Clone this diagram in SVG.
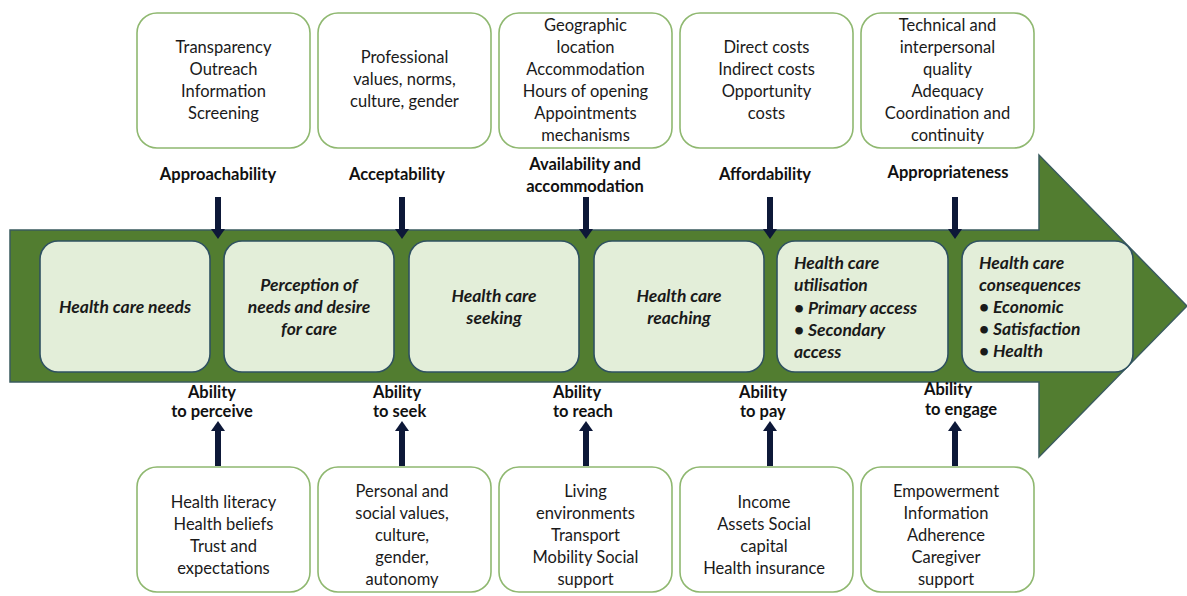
<svg xmlns="http://www.w3.org/2000/svg" width="1187" height="596" viewBox="0 0 1187 596">
<defs>
<style>
.ob{fill:#ffffff;stroke:#8fb870;stroke-width:1.6}
.ib{fill:#e3eed9;stroke:#2f5160;stroke-width:1.6}
.t{font-family:Lato,"Liberation Sans",sans-serif;font-size:16.5px;fill:#1a1a1a;text-anchor:middle}
.lb{font-family:Lato,"Liberation Sans",sans-serif;font-size:16.5px;font-weight:bold;fill:#111;text-anchor:middle}
.la{font-family:Lato,"Liberation Sans",sans-serif;font-size:16.5px;font-weight:bold;fill:#111;text-anchor:start}
.it{font-family:Lato,"Liberation Sans",sans-serif;font-size:17.5px;font-weight:bold;font-style:italic;fill:#1a1a1a;text-anchor:middle}
.il{font-family:Lato,"Liberation Sans",sans-serif;font-size:17.5px;font-weight:bold;font-style:italic;fill:#1a1a1a;text-anchor:start}
.ar{stroke:#0d1838;stroke-width:6;fill:none}
</style>
<marker id="ah" markerUnits="userSpaceOnUse" markerWidth="12" markerHeight="14" refX="0" refY="7" orient="auto">
<path d="M0,0 L10,7 L0,14 Z" fill="#0d1838"/>
</marker>
</defs>
<rect width="1187" height="596" fill="#ffffff"/>

<g id="band">
<polygon points="10,230 1039,230 1039,155 1187,306 1039,457 1039,382 10,382" fill="#527d30" stroke="#3a5b5e" stroke-width="1.5"/>
</g>

<g id="top-boxes">
<g id="top1"><rect class="ob" x="137" y="13" width="173" height="135" rx="20"/>
<text class="t"><tspan x="223.5" y="53">Transparency</tspan><tspan x="223.5" y="75">Outreach</tspan><tspan x="223.5" y="97">Information</tspan><tspan x="223.5" y="119">Screening</tspan></text></g>
<g id="top2"><rect class="ob" x="318" y="13" width="173" height="135" rx="20"/>
<text class="t"><tspan x="404.5" y="63">Professional</tspan><tspan x="404.5" y="85">values, norms,</tspan><tspan x="404.5" y="107">culture, gender</tspan></text></g>
<g id="top3"><rect class="ob" x="499" y="13" width="173" height="135" rx="20"/>
<text class="t"><tspan x="585.5" y="31">Geographic</tspan><tspan x="585.5" y="53">location</tspan><tspan x="585.5" y="75">Accommodation</tspan><tspan x="585.5" y="97">Hours of opening</tspan><tspan x="585.5" y="119">Appointments</tspan><tspan x="585.5" y="141">mechanisms</tspan></text></g>
<g id="top4"><rect class="ob" x="680" y="13" width="173" height="135" rx="20"/>
<text class="t"><tspan x="766.5" y="53">Direct costs</tspan><tspan x="766.5" y="75">Indirect costs</tspan><tspan x="766.5" y="97">Opportunity</tspan><tspan x="766.5" y="119">costs</tspan></text></g>
<g id="top5"><rect class="ob" x="861" y="13" width="173" height="135" rx="20"/>
<text class="t"><tspan x="947.5" y="31">Technical and</tspan><tspan x="947.5" y="53">interpersonal</tspan><tspan x="947.5" y="75">quality</tspan><tspan x="947.5" y="97">Adequacy</tspan><tspan x="947.5" y="119">Coordination and</tspan><tspan x="947.5" y="141">continuity</tspan></text></g>
</g>

<g id="top-labels">
<text class="lb" x="218" y="180">Approachability</text>
<text class="lb" x="397" y="180">Acceptability</text>
<text class="lb"><tspan x="585" y="170">Availability and</tspan><tspan x="585" y="192">accommodation</tspan></text>
<text class="lb" x="765" y="180">Affordability</text>
<text class="lb" x="948" y="178">Appropriateness</text>
</g>

<g id="connectors">
<line class="ar" x1="218" y1="197" x2="218" y2="229" marker-end="url(#ah)"/>
<line class="ar" x1="402" y1="197" x2="402" y2="229" marker-end="url(#ah)"/>
<line class="ar" x1="586" y1="197" x2="586" y2="229" marker-end="url(#ah)"/>
<line class="ar" x1="770" y1="197" x2="770" y2="229" marker-end="url(#ah)"/>
<line class="ar" x1="955" y1="197" x2="955" y2="229" marker-end="url(#ah)"/>
<line class="ar" x1="218" y1="466" x2="218" y2="431" marker-end="url(#ah)"/>
<line class="ar" x1="402" y1="466" x2="402" y2="431" marker-end="url(#ah)"/>
<line class="ar" x1="586" y1="466" x2="586" y2="431" marker-end="url(#ah)"/>
<line class="ar" x1="770" y1="466" x2="770" y2="431" marker-end="url(#ah)"/>
<line class="ar" x1="955" y1="466" x2="955" y2="431" marker-end="url(#ah)"/>
</g>

<g id="stages">
<g id="stage1"><rect class="ib" x="40" y="241" width="170" height="131" rx="18"/>
<text class="it" x="125" y="313">Health care needs</text></g>
<g id="stage2"><rect class="ib" x="224" y="241" width="170" height="131" rx="18"/>
<text class="it"><tspan x="309" y="291">Perception of</tspan><tspan x="309" y="313">needs and desire</tspan><tspan x="309" y="335">for care</tspan></text></g>
<g id="stage3"><rect class="ib" x="409" y="241" width="170" height="131" rx="18"/>
<text class="it"><tspan x="494" y="302">Health care</tspan><tspan x="494" y="324">seeking</tspan></text></g>
<g id="stage4"><rect class="ib" x="594" y="241" width="170" height="131" rx="18"/>
<text class="it"><tspan x="679" y="302">Health care</tspan><tspan x="679" y="324">reaching</tspan></text></g>
<g id="stage5"><rect class="ib" x="777" y="241" width="171" height="131" rx="18"/>
<text class="il"><tspan x="794" y="269">Health care</tspan><tspan x="794" y="291">utilisation</tspan><tspan x="794" y="314">• Primary access</tspan><tspan x="794" y="336">• Secondary</tspan><tspan x="794" y="358">access</tspan></text></g>
<g id="stage6"><rect class="ib" x="962" y="241" width="171" height="131" rx="18"/>
<text class="il"><tspan x="979" y="269">Health care</tspan><tspan x="979" y="291">consequences</tspan><tspan x="979" y="313">• Economic</tspan><tspan x="979" y="335">• Satisfaction</tspan><tspan x="979" y="357">• Health</tspan></text></g>
</g>

<g id="bottom-labels">
<text class="lb"><tspan x="212" y="398">Ability</tspan><tspan x="212" y="417">to perceive</tspan></text>
<text class="la"><tspan x="373" y="398">Ability</tspan><tspan x="373" y="417">to seek</tspan></text>
<text class="la"><tspan x="553" y="398">Ability</tspan><tspan x="553" y="417">to reach</tspan></text>
<text class="la"><tspan x="739" y="398">Ability</tspan><tspan x="740" y="417">to pay</tspan></text>
<text class="la"><tspan x="924" y="395">Ability</tspan><tspan x="925" y="415">to engage</tspan></text>
</g>

<g id="bottom-boxes">
<g id="bot1"><rect class="ob" x="137" y="467" width="173" height="125" rx="20"/>
<text class="t"><tspan x="223.5" y="508">Health literacy</tspan><tspan x="223.5" y="530">Health beliefs</tspan><tspan x="223.5" y="552">Trust and</tspan><tspan x="223.5" y="574">expectations</tspan></text></g>
<g id="bot2"><rect class="ob" x="318" y="467" width="173" height="125" rx="20"/>
<text class="t"><tspan x="402" y="497">Personal and</tspan><tspan x="402" y="519">social values,</tspan><tspan x="402" y="541">culture,</tspan><tspan x="402" y="563">gender,</tspan><tspan x="402" y="585">autonomy</tspan></text></g>
<g id="bot3"><rect class="ob" x="499" y="467" width="173" height="125" rx="20"/>
<text class="t"><tspan x="585.5" y="497">Living</tspan><tspan x="585.5" y="519">environments</tspan><tspan x="585.5" y="541">Transport</tspan><tspan x="585.5" y="563">Mobility Social</tspan><tspan x="585.5" y="585">support</tspan></text></g>
<g id="bot4"><rect class="ob" x="680" y="467" width="173" height="125" rx="20"/>
<text class="t"><tspan x="764" y="508">Income</tspan><tspan x="764" y="530">Assets Social</tspan><tspan x="764" y="552">capital</tspan><tspan x="764" y="574">Health insurance</tspan></text></g>
<g id="bot5"><rect class="ob" x="861" y="467" width="173" height="125" rx="20"/>
<text class="t"><tspan x="946" y="497">Empowerment</tspan><tspan x="946" y="519">Information</tspan><tspan x="946" y="541">Adherence</tspan><tspan x="946" y="563">Caregiver</tspan><tspan x="946" y="585">support</tspan></text></g>
</g>
</svg>
